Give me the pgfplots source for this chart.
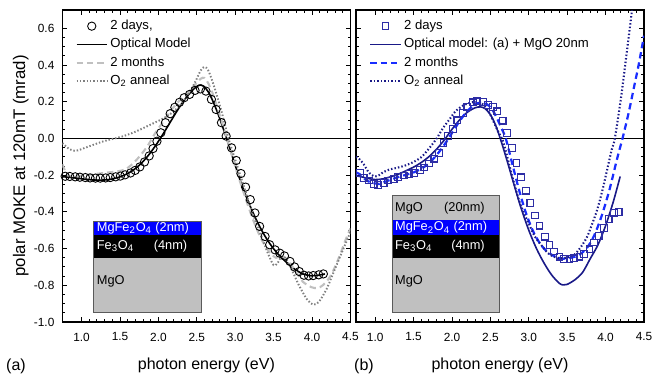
\documentclass[border=0pt]{standalone}
\usepackage{fontspec}
\setmainfont{Liberation Sans}
\usepackage{pgfplots}
\pgfplotsset{compat=1.18}
\definecolor{navy}{RGB}{25,25,135}
\definecolor{sqblue}{RGB}{45,45,165}
\definecolor{brightblue}{RGB}{25,45,255}
\definecolor{lgray}{RGB}{192,192,192}
\definecolor{dgray}{RGB}{128,128,128}
\definecolor{boxgray}{RGB}{192,192,192}
\definecolor{boxedge}{RGB}{90,90,90}

\pgfplotsset{
 mokeaxis/.style={
  scale only axis, width=180pt, height=195pt,
  xmin=0.75, xmax=4.5, ymin=-1.0, ymax=0.7,
  xtick={1,1.5,2,2.5,3,3.5,4,4.5},
  ytick={-1,-0.8,-0.6,-0.4,-0.2,0,0.2,0.4,0.6},
  minor x tick num=4, minor y tick num=3,
  tick align=inside, xtick pos=both, ytick pos=both,
  xticklabel pos=lower, yticklabel pos=left,
  major tick length=3pt, minor tick length=1.7pt,
  axis line style={line width=0.8pt},
  tick style={black, line width=0.6pt},
  tick label style={font=\fontsize{7.4}{9}\selectfont},
  /pgf/number format/.cd, fixed, fixed zerofill, precision=1, assume math mode=true,
  /pgfplots/.cd,
  yticklabel style={xshift=-1.5pt},
  xticklabel style={yshift=-3.2pt},
  xlabel={photon energy (eV)},
  xlabel style={font=\fontsize{10}{12}\selectfont, at={([yshift=-27pt]axis description cs:0.5,0)}, anchor=center},
  legend image code/.code={\draw[#1] (0pt,0pt) -- (19pt,0pt);},
  legend cell align=left,
  legend style={draw=none, fill=none, at={(axis description cs:0,1)}, anchor=north west, xshift=5pt, yshift=-3pt,
    font=\fontsize{8.2}{9}\selectfont, row sep=1.6pt, column sep=0.5pt,
    nodes={inner sep=1pt, text height=6pt, text depth=1.8pt}},
 },
 marklegend/.style={legend image code/.code={\draw[mark repeat=2, mark phase=2, ##1] plot coordinates {(0pt,0pt) (9.5pt,0pt) (19pt,0pt)};}},
}

\begin{document}
\begin{tikzpicture}
\useasboundingbox (0,0) rectangle (410pt,233.75pt);

% ---------------- panel (a) ----------------
\begin{axis}[mokeaxis, at={(39pt,32.5pt)}, anchor=south west,
  ylabel={polar MOKE at 120mT (mrad)},
  ylabel style={font=\fontsize{10.5}{12}\selectfont, at={([xshift=-26pt]axis description cs:0,0.5)}, anchor=center}]
\addplot[black, line width=0.6pt, forget plot] coordinates {(0.75,0) (4.5,0)};

\addplot[only marks, mark=o, mark size=2.6pt, mark options={black, line width=0.55pt}, marklegend] coordinates {
(0.786,-0.206)(0.846,-0.207)(0.917,-0.209)(0.978,-0.211)(1.049,-0.213)(1.110,-0.215)(1.181,-0.216)(1.242,-0.216)
(1.313,-0.215)(1.373,-0.213)(1.444,-0.209)(1.505,-0.205)(1.566,-0.198)(1.637,-0.188)(1.697,-0.174)(1.758,-0.155)
(1.819,-0.128)(1.880,-0.095)(1.930,-0.055)(1.981,-0.015)(2.032,0.031)(2.092,0.086)(2.153,0.135)(2.214,0.170)
(2.275,0.197)(2.335,0.222)(2.406,0.240)(2.477,0.262)(2.548,0.270)(2.619,0.258)(2.690,0.213)(2.751,0.158)
(2.821,0.086)(2.882,0.013)(2.953,-0.051)(3.014,-0.120)(3.075,-0.191)(3.135,-0.265)(3.196,-0.333)(3.257,-0.406)
(3.318,-0.479)(3.389,-0.534)(3.449,-0.579)(3.520,-0.607)(3.581,-0.625)(3.642,-0.640)(3.713,-0.670)(3.773,-0.700)
(3.834,-0.725)(3.895,-0.745)(3.956,-0.749)(4.016,-0.747)(4.087,-0.743)(4.148,-0.738)};
\addlegendentry{2 days,}

\addplot[black, line width=1pt, smooth] coordinates {
(0.75,-0.208)(0.847,-0.212)(0.948,-0.217)(1.049,-0.222)(1.15,-0.226)(1.252,-0.227)(1.353,-0.224)(1.454,-0.215)
(1.556,-0.200)(1.657,-0.177)(1.758,-0.143)(1.86,-0.097)(1.961,-0.040)(2.062,0.025)(2.163,0.095)(2.265,0.165)
(2.366,0.225)(2.467,0.272)(2.528,0.290)(2.588,0.285)(2.669,0.240)(2.771,0.140)(2.872,0.020)(2.973,-0.110)
(3.074,-0.240)(3.176,-0.350)(3.277,-0.445)(3.378,-0.525)(3.480,-0.590)(3.581,-0.640)(3.682,-0.680)(3.784,-0.715)
(3.885,-0.738)(3.986,-0.748)(4.087,-0.745)(4.168,-0.738)};
\addlegendentry{Optical Model}

\addplot[lgray, line width=1.3pt, dash pattern=on 4pt off 2.5pt, smooth] coordinates {
(0.75,-0.14)(0.80,-0.19)(0.85,-0.205)(0.95,-0.205)(1.05,-0.20)(1.15,-0.195)(1.25,-0.19)(1.35,-0.185)(1.45,-0.18)
(1.56,-0.17)(1.66,-0.14)(1.76,-0.095)(1.86,-0.04)(1.96,0.03)(2.06,0.09)(2.16,0.15)(2.26,0.20)(2.37,0.24)(2.47,0.29)
(2.55,0.325)(2.60,0.33)(2.65,0.30)(2.72,0.23)(2.82,0.10)(2.92,-0.04)(3.02,-0.18)(3.13,-0.32)(3.23,-0.44)(3.33,-0.54)
(3.43,-0.61)(3.53,-0.65)(3.60,-0.64)(3.68,-0.66)(3.78,-0.72)(3.88,-0.78)(3.99,-0.81)(4.07,-0.815)(4.14,-0.80)
(4.24,-0.75)(4.34,-0.66)(4.44,-0.55)(4.50,-0.49)};
\addlegendentry{2 months}

\addplot[dgray, line width=1.2pt, dash pattern=on 0.9pt off 1.2pt, smooth] coordinates {
(0.75,-0.025)(0.80,-0.045)(0.85,-0.06)(0.90,-0.066)(0.95,-0.065)(1.05,-0.05)(1.15,-0.035)(1.25,-0.02)(1.35,-0.008)
(1.45,0.002)(1.56,0.015)(1.66,0.03)(1.76,0.048)(1.86,0.068)(1.96,0.088)(2.06,0.108)(2.16,0.135)(2.27,0.175)
(2.37,0.23)(2.47,0.30)(2.55,0.37)(2.60,0.39)(2.65,0.37)(2.72,0.29)(2.82,0.15)(2.92,-0.01)(3.02,-0.14)(3.12,-0.27)
(3.22,-0.40)(3.33,-0.52)(3.43,-0.63)(3.50,-0.69)(3.55,-0.68)(3.60,-0.645)(3.65,-0.65)(3.73,-0.71)(3.83,-0.80)
(3.94,-0.88)(4.02,-0.905)(4.09,-0.89)(4.19,-0.82)(4.29,-0.72)(4.39,-0.62)(4.50,-0.51)};
\addlegendentry{O\textsubscript{2} anneal}

% layer stack
\fill[boxgray] (axis cs:1.16,-0.949) rectangle (axis cs:2.56,-0.649);
\fill[black] (axis cs:1.16,-0.649) rectangle (axis cs:2.56,-0.525);
\fill[blue] (axis cs:1.16,-0.525) rectangle (axis cs:2.56,-0.452);
\draw[boxedge, line width=0.6pt] (axis cs:1.16,-0.949) rectangle (axis cs:2.56,-0.452);
\begin{scope}[every node/.style={font=\fontsize{8}{9}\selectfont, inner sep=0pt}]
\node[anchor=west, text=white] at (axis cs:1.195,-0.489) {MgFe\textsubscript{2}O\textsubscript{4} (2nm)};
\node[anchor=west, text=white] at (axis cs:1.195,-0.587) {Fe\textsubscript{3}O\textsubscript{4}};
\node[anchor=east, text=white] at (axis cs:2.38,-0.587) {(4nm)};
\node[anchor=west, text=black] at (axis cs:1.195,-0.78) {MgO};
\end{scope}
\end{axis}

% ---------------- panel (b) ----------------
\begin{axis}[mokeaxis, at={(222.5pt,32.5pt)}, anchor=south west, yticklabels={}]
\addplot[black, line width=0.6pt, forget plot] coordinates {(0.75,0) (4.5,0)};

\addplot[only marks, mark=square, mark size=2.1pt, mark options={sqblue, line width=0.7pt}, marklegend] coordinates {
(0.80,-0.189)(0.85,-0.216)(0.92,-0.229)(0.98,-0.247)(1.04,-0.253)(1.11,-0.244)(1.17,-0.229)(1.24,-0.222)
(1.30,-0.211)(1.37,-0.202)(1.44,-0.195)(1.51,-0.189)(1.58,-0.171)(1.64,-0.158)(1.70,-0.136)(1.77,-0.110)
(1.83,-0.080)(1.89,-0.024)(1.95,0.012)(2.01,0.052)(2.07,0.099)(2.14,0.138)(2.20,0.172)(2.27,0.197)
(2.33,0.202)(2.40,0.198)(2.47,0.184)(2.53,0.170)(2.59,0.148)(2.66,0.097)(2.72,0.031)(2.78,-0.052)
(2.84,-0.134)(2.90,-0.212)(2.96,-0.284)(3.02,-0.353)(3.08,-0.420)(3.14,-0.475)(3.21,-0.535)(3.27,-0.580)
(3.33,-0.616)(3.40,-0.644)(3.46,-0.656)(3.53,-0.656)(3.59,-0.653)(3.66,-0.644)(3.72,-0.631)(3.79,-0.604)
(3.85,-0.567)(3.91,-0.531)(3.98,-0.489)(4.04,-0.440)(4.11,-0.404)(4.17,-0.400)};
\addlegendentry{2 days}

\addplot[navy, line width=1pt, smooth] coordinates {
(0.75,-0.203)(0.80,-0.207)(0.9,-0.217)(1.0,-0.224)(1.1,-0.220)(1.2,-0.209)(1.3,-0.195)(1.4,-0.176)(1.5,-0.156)
(1.6,-0.131)(1.7,-0.099)(1.8,-0.058)(1.9,-0.008)(2.0,0.050)(2.1,0.102)(2.2,0.143)(2.3,0.167)(2.37,0.172)
(2.43,0.163)(2.5,0.130)(2.57,0.070)(2.64,-0.015)(2.72,-0.125)(2.8,-0.240)(2.9,-0.380)(3.0,-0.500)(3.1,-0.600)
(3.2,-0.680)(3.3,-0.745)(3.4,-0.790)(3.45,-0.798)(3.5,-0.795)(3.6,-0.770)(3.7,-0.730)(3.8,-0.655)(3.9,-0.580)
(4.0,-0.475)(4.1,-0.345)(4.19,-0.207)};
\addlegendentry{Optical model: (a) + MgO 20nm}

\addplot[brightblue, line width=1.4pt, dash pattern=on 4pt off 2.5pt, smooth] coordinates {
(0.75,-0.185)(0.80,-0.195)(0.85,-0.215)(0.9,-0.232)(1.0,-0.245)(1.05,-0.248)(1.1,-0.240)(1.2,-0.225)(1.3,-0.210)
(1.4,-0.198)(1.5,-0.185)(1.6,-0.165)(1.7,-0.135)(1.8,-0.090)(1.9,-0.035)(2.0,0.030)(2.1,0.095)(2.2,0.150)
(2.3,0.185)(2.37,0.195)(2.45,0.188)(2.52,0.160)(2.58,0.115)(2.64,0.060)(2.70,0.0)(2.78,-0.13)(2.86,-0.26)
(2.95,-0.39)(3.05,-0.50)(3.15,-0.575)(3.25,-0.620)(3.35,-0.645)(3.45,-0.655)(3.55,-0.650)(3.65,-0.635)
(3.75,-0.600)(3.85,-0.530)(3.95,-0.420)(4.05,-0.280)(4.15,-0.110)(4.22,0.0)(4.30,0.14)(4.38,0.30)(4.43,0.40)(4.50,0.56)};
\addlegendentry{2 months}

\addplot[navy, line width=1.3pt, dash pattern=on 0.9pt off 1.3pt, smooth] coordinates {
(0.75,-0.10)(0.80,-0.115)(0.85,-0.14)(0.90,-0.175)(0.95,-0.198)(1.00,-0.207)(1.05,-0.200)(1.10,-0.185)(1.18,-0.170)
(1.30,-0.158)(1.40,-0.146)(1.50,-0.128)(1.60,-0.102)(1.70,-0.055)(1.80,0.0)(1.88,0.055)(1.96,0.100)(2.05,0.150)
(2.17,0.185)(2.30,0.200)(2.38,0.193)(2.45,0.165)(2.51,0.120)(2.56,0.075)(2.61,0.030)(2.66,-0.010)(2.72,-0.100)
(2.78,-0.200)(2.84,-0.290)(2.90,-0.370)(3.00,-0.465)(3.08,-0.535)(3.16,-0.580)(3.25,-0.625)(3.33,-0.645)
(3.42,-0.653)(3.50,-0.648)(3.59,-0.635)(3.68,-0.590)(3.76,-0.535)(3.83,-0.460)(3.89,-0.389)(3.96,-0.280)
(4.02,-0.170)(4.08,-0.060)(4.12,0.0)(4.20,0.22)(4.27,0.45)(4.35,0.72)(4.40,0.90)};
\addlegendentry{O\textsubscript{2} anneal}

% layer stack
\fill[boxgray] (axis cs:1.22,-0.949) rectangle (axis cs:2.62,-0.649);
\fill[black] (axis cs:1.22,-0.649) rectangle (axis cs:2.62,-0.525);
\fill[blue] (axis cs:1.22,-0.525) rectangle (axis cs:2.62,-0.446);
\fill[boxgray] (axis cs:1.22,-0.446) rectangle (axis cs:2.62,-0.311);
\draw[boxedge, line width=0.6pt] (axis cs:1.22,-0.949) rectangle (axis cs:2.62,-0.311);
\begin{scope}[every node/.style={font=\fontsize{8}{9}\selectfont, inner sep=0pt}]
\node[anchor=west, text=black] at (axis cs:1.255,-0.379) {MgO};
\node[anchor=east, text=black] at (axis cs:2.43,-0.379) {(20nm)};
\node[anchor=west, text=white] at (axis cs:1.255,-0.486) {MgFe\textsubscript{2}O\textsubscript{4} (2nm)};
\node[anchor=west, text=white] at (axis cs:1.255,-0.587) {Fe\textsubscript{3}O\textsubscript{4}};
\node[anchor=east, text=white] at (axis cs:2.43,-0.587) {(4nm)};
\node[anchor=west, text=black] at (axis cs:1.255,-0.78) {MgO};
\end{scope}
\end{axis}

\node[font=\fontsize{10}{12}\selectfont] at (10pt,5pt) {(a)};
\node[font=\fontsize{10}{12}\selectfont] at (227.5pt,5pt) {(b)};
\end{tikzpicture}
\end{document}
